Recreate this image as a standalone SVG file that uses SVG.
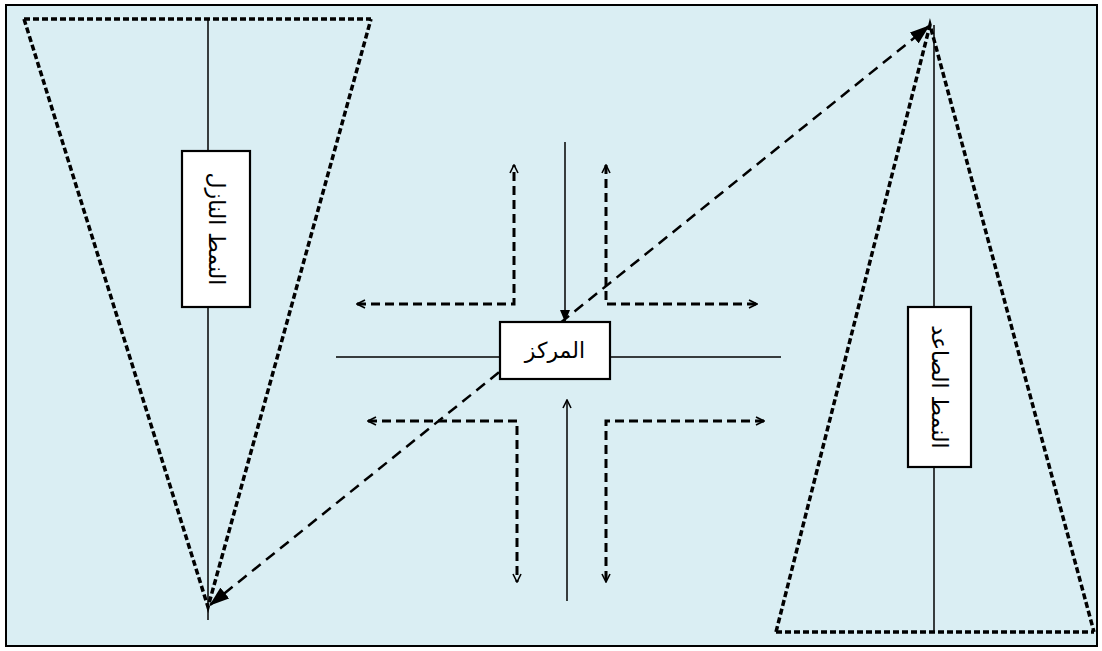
<svg xmlns="http://www.w3.org/2000/svg" width="1102" height="651" viewBox="0 0 1102 651">
<style>
.solid{stroke:#000;stroke-width:1.5;fill:none}
.tri{stroke:#000;stroke-width:3.5;fill:none;stroke-dasharray:6 3}
.base{stroke:#000;stroke-width:3.5;fill:none;stroke-dasharray:6 3}
.ell{stroke:#000;stroke-width:3;fill:none;stroke-dasharray:9 5}
.diag{stroke:#000;stroke-width:2.5;fill:none;stroke-dasharray:11 7}
.box{fill:#fff;stroke:#000;stroke-width:2.2}
.lbl{font-family:"DejaVu Sans","Liberation Sans",sans-serif;font-size:22px;fill:#000}
</style>
<defs>
<marker id="open" viewBox="0 0 10 10" refX="9" refY="5" markerWidth="10" markerHeight="10" markerUnits="userSpaceOnUse" orient="auto-start-reverse">
<path d="M1,1 L9,5 L1,9" fill="none" stroke="#000" stroke-width="1.6"/>
</marker>
<marker id="fill" viewBox="0 0 12 12" refX="11" refY="6" markerWidth="12" markerHeight="12" markerUnits="userSpaceOnUse" orient="auto">
<path d="M0,1 L12,6 L0,11 Z" fill="#000"/>
</marker>
<marker id="big" viewBox="0 0 20 14" refX="19" refY="7" markerWidth="20" markerHeight="14" markerUnits="userSpaceOnUse" orient="auto-start-reverse">
<path d="M0,0 L20,7 L0,14 Z" fill="#000"/>
</marker>
</defs>
<rect x="6" y="5" width="1091" height="641" fill="#DAEEF3" stroke="#000" stroke-width="2"/>
<g id="connectors">
<line class="solid" x1="208" y1="19" x2="208" y2="620"/>
<line class="solid" x1="934" y1="25" x2="934" y2="632"/>
<line class="solid" x1="336" y1="357" x2="500" y2="357"/>
<line class="solid" x1="610" y1="357" x2="781" y2="357"/>
<line class="solid" x1="565" y1="142" x2="565" y2="321" marker-end="url(#fill)"/>
<line class="solid" x1="567" y1="601" x2="567" y2="400" marker-end="url(#open)"/>
<polyline class="ell" points="357,304 514,304 514,165" marker-start="url(#open)" marker-end="url(#open)"/>
<polyline class="ell" points="606,165 606,304 757,304" marker-start="url(#open)" marker-end="url(#open)"/>
<polyline class="ell" points="368,421 517,421 517,582" marker-start="url(#open)" marker-end="url(#open)"/>
<polyline class="ell" points="764,421 606,421 606,582" marker-start="url(#open)" marker-end="url(#open)"/>
<line class="diag" x1="210" y1="605" x2="929" y2="26" marker-start="url(#big)" marker-end="url(#big)"/>
</g>
<g id="descending">
<line class="base" x1="24" y1="19" x2="371" y2="19"/>
<polyline class="tri" points="24,19 208,607 371,19"/>
</g>
<g id="ascending">
<polyline class="tri" points="776,632 930,25 1094,632"/>
<line class="base" x1="776" y1="632" x2="1094" y2="632"/>
</g>
<g id="node-descending">
<rect class="box" x="182" y="151" width="68" height="156"/>
<text class="lbl" transform="translate(216,229) rotate(90)" text-anchor="middle" dominant-baseline="central">النمط النازل</text>
</g>
<g id="node-ascending">
<rect class="box" x="908" y="307" width="63" height="160"/>
<text class="lbl" transform="translate(939,387) rotate(90)" text-anchor="middle" dominant-baseline="central">النمط الصاعد</text>
</g>
<g id="node-center">
<rect class="box" x="500" y="322" width="110" height="57"/>
<text class="lbl" x="555" y="350" text-anchor="middle" dominant-baseline="central" font-size="24">المركز</text>
</g>
</svg>
